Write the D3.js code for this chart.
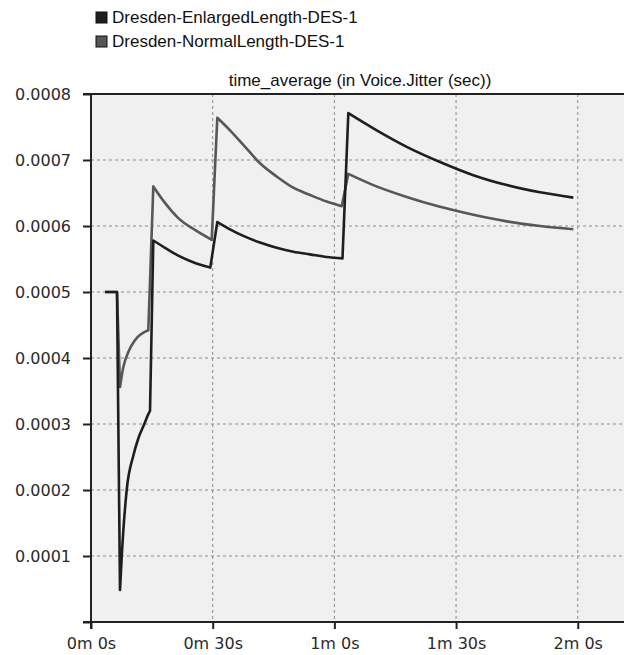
<!DOCTYPE html>
<html>
<head>
<meta charset="utf-8">
<script src="https://cdn.jsdelivr.net/npm/d3@7"></script>
<style>
  body { margin: 0; background: #fff; }
  .axis-label { font-family: 'DejaVu Sans', sans-serif; font-size: 16px; fill: #2a2a2a; }
  .legend-text, .title { font-family: 'Liberation Sans', Arial, sans-serif; font-size: 17px; fill: #111; }
</style>
</head>
<body>
<svg id="chart" width="624" height="655"></svg>
<script>
// series names
const seriesNames = ['Dresden-EnlargedLength-DES-1', 'Dresden-NormalLength-DES-1'];

// time in seconds, values in 1e-4 sec
const enlargedTime = [3.45, 6.41, 7.15, 7.57, 8.8, 10.43, 11.66, 13.14, 14.13, 14.55, 15.36, 18.24, 21.52, 25.64, 29.4,
  31.14, 34.27, 37.55, 41.67, 45.78, 49.88, 54.0, 58.11, 62.0,
  63.44, 69.6, 77.83, 86.05, 94.26, 102.49, 110.7, 118.91];
const enlargedValue = [5.0, 5.0, 0.485, 0.985, 2.0, 2.52, 2.78, 3.0, 3.15, 3.2, 5.78, 5.67, 5.55, 5.44, 5.37,
  6.06, 5.95, 5.85, 5.75, 5.67, 5.61, 5.57, 5.53, 5.51,
  7.71, 7.48, 7.20, 6.97, 6.77, 6.62, 6.51, 6.43];
// index where each continuous piece starts (jumps between pieces are straight)
const enlargedBreaks = [0, 2, 10, 15, 24];

const normalTime = [3.45, 6.41, 7.15, 7.96, 9.2, 10.85, 14.13, 15.36, 18.24, 21.52, 25.64, 29.76,
  31.14, 34.27, 37.55, 41.67, 45.78, 49.88, 54.0, 58.11, 61.81,
  63.44, 69.6, 77.83, 86.05, 94.26, 102.49, 110.7, 118.91];
const normalValue = [5.0, 5.0, 3.56, 3.86, 4.09, 4.27, 4.42, 6.60, 6.35, 6.12, 5.94, 5.79,
  7.64, 7.45, 7.23, 6.95, 6.75, 6.58, 6.47, 6.37, 6.30,
  6.79, 6.62, 6.44, 6.29, 6.17, 6.07, 6.00, 5.95];
const normalBreaks = [0, 2, 7, 12, 21];

const yTicks = [0, 0.0001, 0.0002, 0.0003, 0.0004, 0.0005, 0.0006, 0.0007, 0.0008];
const xTicks = [0, 30, 60, 90, 120];
const xTickLabels = ['0m 0s', '0m 30s', '1m 0s', '1m 30s', '2m 0s'];

const colors = ['#1e1e1e', '#575757'];

const margin = { top: 94, right: 0, bottom: 33, left: 91 };
const W = 624, H = 655;

const svg = d3.select('#chart');

const x = d3.scaleLinear().domain([0, 131.4]).range([margin.left, W - margin.right]);
const y = d3.scaleLinear().domain([0, 0.0008]).range([H - margin.bottom, margin.top]);

function toPieces(times, values, breaks) {
  const pts = times.map((t, i) => ({ t, v: values[i] * 1e-4 }));
  return breaks.map((b, i) => pts.slice(b, breaks[i + 1]));
}
const series = [
  toPieces(enlargedTime, enlargedValue, enlargedBreaks),
  toPieces(normalTime, normalValue, normalBreaks)
];

// plot background
svg.append('rect')
  .attr('x', x(0)).attr('y', y(0.0008))
  .attr('width', x.range()[1] - x(0))
  .attr('height', y(0) - y(0.0008))
  .attr('fill', '#f0f0f0');

// grid
const grid = svg.append('g').attr('class', 'grid');
grid.selectAll('.hgrid')
  .data(yTicks.filter(d => d > 0 && d < 0.0008))
  .join('line')
  .attr('x1', x(0)).attr('x2', x.range()[1])
  .attr('y1', d => y(d)).attr('y2', d => y(d))
  .attr('stroke', '#8c8c8c').attr('stroke-dasharray', '3,3');
grid.selectAll('.vgrid')
  .data(xTicks.filter(d => d > 0))
  .join('line')
  .attr('x1', d => x(d)).attr('x2', d => x(d))
  .attr('y1', y(0.0008)).attr('y2', y(0))
  .attr('stroke', '#8c8c8c').attr('stroke-dasharray', '3,3');

// axes
const axisY = d3.axisLeft(y).tickValues(yTicks).tickSize(8).tickPadding(12)
  .tickFormat(d => d === 0 ? '' : d3.format('.4f')(d));
const gy = svg.append('g').attr('transform', `translate(${x(0)},0)`).call(axisY);
gy.select('.domain').remove();
gy.selectAll('.tick line').attr('stroke', '#222').attr('stroke-width', 2);
gy.selectAll('.tick text').attr('class', 'axis-label').attr('fill', null);

const axisX = d3.axisBottom(x).tickValues(xTicks).tickSize(7).tickPadding(9)
  .tickFormat((d, i) => xTickLabels[i]);
const gx = svg.append('g').attr('transform', `translate(0,${y(0)})`).call(axisX);
gx.select('.domain').remove();
gx.selectAll('.tick line').attr('stroke', '#222').attr('stroke-width', 2);
gx.selectAll('.tick text').attr('class', 'axis-label').attr('fill', null);

// frame lines: left, top, bottom
svg.append('line').attr('x1', x(0)).attr('x2', x(0)).attr('y1', y(0.0008)).attr('y2', y(0) + 7)
  .attr('stroke', '#222').attr('stroke-width', 2);
svg.append('line').attr('x1', x(0) - 8).attr('x2', x.range()[1]).attr('y1', y(0.0008)).attr('y2', y(0.0008))
  .attr('stroke', '#222').attr('stroke-width', 2);
svg.append('line').attr('x1', x(0) - 8).attr('x2', x.range()[1]).attr('y1', y(0)).attr('y2', y(0))
  .attr('stroke', '#222').attr('stroke-width', 2);

// lines: each piece smoothed, pieces joined by straight jumps
const line = d3.line().x(d => x(d.t)).y(d => y(d.v)).curve(d3.curveMonotoneX);
function piecesPath(pieces) {
  return pieces.map((p, i) => {
    const s = line(p);
    return i === 0 ? s : 'L' + s.slice(1);
  }).join('');
}
svg.append('g').selectAll('path')
  .data([series[1], series[0]])
  .join('path')
  .attr('d', piecesPath)
  .attr('fill', 'none')
  .attr('stroke', (d, i) => colors[1 - i])
  .attr('stroke-width', 2.6)
  .attr('stroke-linejoin', 'round');

// title
svg.append('text').attr('class', 'title')
  .attr('x', 360).attr('y', 86).attr('text-anchor', 'middle')
  .text('time_average (in Voice.Jitter (sec))');

// legend
const legend = svg.append('g').selectAll('g')
  .data(seriesNames)
  .join('g')
  .attr('transform', (d, i) => `translate(96,${12 + i * 24})`);
legend.append('rect')
  .attr('width', 11).attr('height', 11)
  .attr('fill', (d, i) => colors[i])
  .attr('stroke', '#111').attr('stroke-width', 1);
legend.append('text').attr('class', 'legend-text')
  .attr('x', 16).attr('y', 11)
  .text(d => d);
</script>
</body>
</html>
